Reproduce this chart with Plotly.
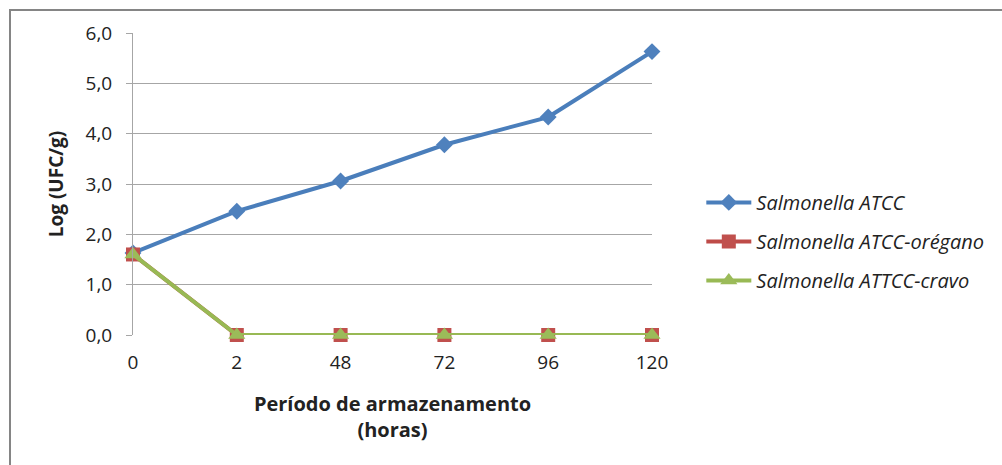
import plotly.graph_objects as go

# Storage period categories (hours) and log counts per treatment
periodos = ["0", "2", "48", "72", "96", "120"]
atcc = [1.63, 2.46, 3.06, 3.78, 4.33, 5.63]
atcc_oregano = [1.60, 0.0, 0.0, 0.0, 0.0, 0.0]
attcc_cravo = [1.60, 0.0, 0.0, 0.0, 0.0, 0.0]
y_ticks = [0, 1, 2, 3, 4, 5, 6]

FONT = "Open Sans, DejaVu Sans, sans-serif"
idx = list(range(len(periodos)))

fig = go.Figure()
fig.add_trace(go.Scatter(
    x=idx, y=atcc, mode="lines+markers", name="Salmonella ATCC",
    legendgroup="a",
    line=dict(color="#4A7EBB", width=4),
    marker=dict(symbol="diamond", size=13, color="#4F81BD"),
    cliponaxis=False,
))
fig.add_trace(go.Scatter(
    x=idx, y=atcc_oregano, mode="lines+markers", name="Salmonella ATCC-orégano",
    legendgroup="b",
    line=dict(color="#BE4B48", width=4),
    marker=dict(symbol="square", size=14, color="#C0504D"),
    cliponaxis=False,
))
fig.add_trace(go.Scatter(
    x=idx, y=attcc_cravo, mode="lines+markers", name="Salmonella ATTCC-cravo",
    legendgroup="c",
    line=dict(color="#98B954", width=4),
    marker=dict(symbol="triangle-up", size=15, color="#9BBB59"),
    cliponaxis=False,
))

fig.update_layout(
    width=1002, height=465,
    margin=dict(l=133, r=350, t=33, b=130),
    paper_bgcolor="white", plot_bgcolor="white",
    separators=",.",
    font=dict(family=FONT, size=19, color="#222222"),
    showlegend=True,
    legend=dict(
        x=1.095, y=0.31, xanchor="left", yanchor="middle",
        font=dict(family=FONT, size=20, style="italic", color="#222222"),
        tracegroupgap=10, itemwidth=45,
        bgcolor="rgba(0,0,0,0)",
    ),
    xaxis=dict(
        range=[0, len(periodos) - 1],
        tickmode="array", tickvals=idx, ticktext=periodos,
        showgrid=False, zeroline=False,
        showline=False, ticks="",
        ticklabelstandoff=14,
        tickfont=dict(size=19),
        title=dict(text="<b>Período de armazenamento<br>(horas)</b>",
                   font=dict(size=20), standoff=22),
    ),
    yaxis=dict(
        range=[0, 6], tickvals=y_ticks, tickformat=".1f",
        showgrid=True, gridcolor="#A6A6A6", gridwidth=1,
        zeroline=False,
        showline=True, linecolor="#A6A6A6", linewidth=1,
        ticks="outside", ticklen=6, tickcolor="#A6A6A6",
        ticklabelstandoff=10,
        tickfont=dict(size=19),
        title=dict(text="<b>Log (UFC/g)</b>", font=dict(size=19), standoff=16),
    ),
)

# Chart frame around the whole figure area
fig.add_shape(type="rect", xref="paper", yref="paper",
              x0=-0.237, x1=2.0, y0=-1.0, y1=1.076,
              line=dict(color="#858585", width=2), layer="below")

fig.write_html("out.html")
